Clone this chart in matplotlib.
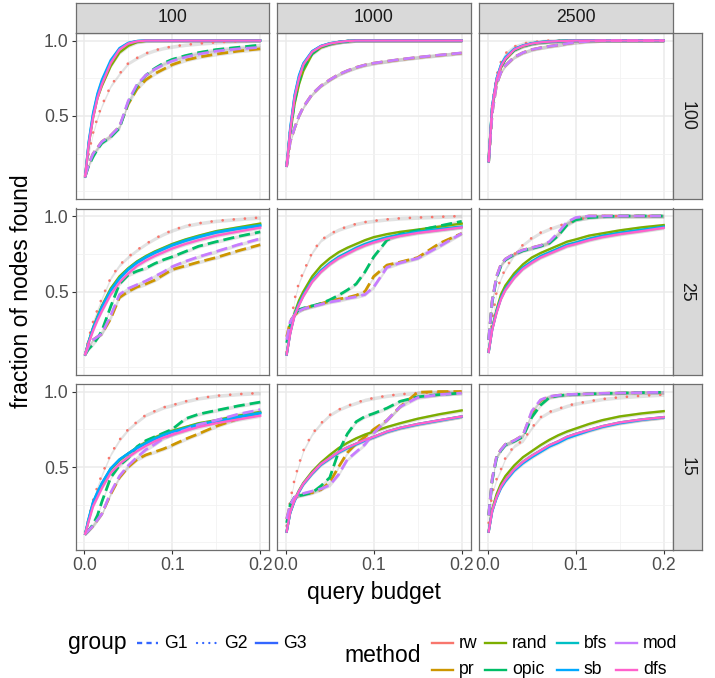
import matplotlib
matplotlib.use("Agg")
import matplotlib.pyplot as plt
import numpy as np

plt.rcParams['font.family'] = ['Liberation Sans', 'DejaVu Sans']

# ----------------------
# DATA
# ----------------------
budget = [0.001, 0.005, 0.01, 0.015, 0.02, 0.03, 0.04, 0.05, 0.06, 0.07,
          0.08, 0.09, 0.1, 0.115, 0.13, 0.15, 0.175, 0.2]

methods = ["rw", "pr", "rand", "opic", "bfs", "sb", "mod", "dfs"]
method_group = {"rw": "G2", "pr": "G1", "rand": "G3", "opic": "G1",
                "bfs": "G3", "sb": "G3", "mod": "G1", "dfs": "G3"}
col_labels = ["100", "1000", "2500"]
row_labels = ["100", "25", "15"]

# row "100"
r100_c100 = dict(
    rw=[0.10, 0.25, 0.39, 0.49, 0.57, 0.70, 0.78, 0.85, 0.885, 0.915, 0.935, 0.95, 0.96, 0.972, 0.98, 0.988, 0.995, 1.0],
    pr=[0.10, 0.18, 0.25, 0.29, 0.33, 0.37, 0.43, 0.58, 0.68, 0.74, 0.78, 0.81, 0.84, 0.87, 0.89, 0.91, 0.93, 0.945],
    rand=[0.10, 0.31, 0.49, 0.62, 0.70, 0.83, 0.92, 0.965, 0.99, 0.998, 1.0, 1.0, 1.0, 1.0, 1.0, 1.0, 1.0, 1.0],
    opic=[0.10, 0.17, 0.23, 0.28, 0.32, 0.36, 0.42, 0.59, 0.70, 0.77, 0.815, 0.85, 0.875, 0.90, 0.92, 0.94, 0.955, 0.97],
    bfs=[0.10, 0.32, 0.51, 0.64, 0.73, 0.86, 0.945, 0.982, 0.996, 1.0, 1.0, 1.0, 1.0, 1.0, 1.0, 1.0, 1.0, 1.0],
    sb=[0.10, 0.33, 0.52, 0.65, 0.74, 0.87, 0.95, 0.985, 0.997, 1.0, 1.0, 1.0, 1.0, 1.0, 1.0, 1.0, 1.0, 1.0],
    mod=[0.10, 0.18, 0.25, 0.29, 0.33, 0.37, 0.43, 0.60, 0.71, 0.77, 0.81, 0.84, 0.865, 0.89, 0.91, 0.93, 0.945, 0.955],
    dfs=[0.10, 0.31, 0.49, 0.62, 0.71, 0.85, 0.94, 0.98, 0.995, 1.0, 1.0, 1.0, 1.0, 1.0, 1.0, 1.0, 1.0, 1.0],
)
r100_c1000 = dict(
    rw=[0.17, 0.40, 0.61, 0.74, 0.83, 0.92, 0.96, 0.978, 0.99, 0.996, 1.0, 1.0, 1.0, 1.0, 1.0, 1.0, 1.0, 1.0],
    pr=[0.17, 0.33, 0.42, 0.50, 0.56, 0.645, 0.70, 0.74, 0.775, 0.80, 0.822, 0.838, 0.85, 0.862, 0.874, 0.888, 0.903, 0.917],
    rand=[0.17, 0.38, 0.58, 0.71, 0.80, 0.91, 0.955, 0.975, 0.988, 0.996, 1.0, 1.0, 1.0, 1.0, 1.0, 1.0, 1.0, 1.0],
    opic=[0.17, 0.39, 0.60, 0.73, 0.82, 0.915, 0.958, 0.977, 0.989, 0.996, 1.0, 1.0, 1.0, 1.0, 1.0, 1.0, 1.0, 1.0],
    bfs=[0.17, 0.41, 0.63, 0.76, 0.845, 0.928, 0.963, 0.981, 0.99, 0.997, 1.0, 1.0, 1.0, 1.0, 1.0, 1.0, 1.0, 1.0],
    sb=[0.17, 0.42, 0.64, 0.77, 0.85, 0.93, 0.965, 0.982, 0.991, 0.997, 1.0, 1.0, 1.0, 1.0, 1.0, 1.0, 1.0, 1.0],
    mod=[0.17, 0.33, 0.42, 0.50, 0.56, 0.645, 0.70, 0.74, 0.775, 0.80, 0.822, 0.838, 0.85, 0.863, 0.875, 0.889, 0.904, 0.918],
    dfs=[0.17, 0.40, 0.62, 0.75, 0.84, 0.925, 0.962, 0.98, 0.99, 0.997, 1.0, 1.0, 1.0, 1.0, 1.0, 1.0, 1.0, 1.0],
)
r100_c2500 = dict(
    rw=[0.20, 0.58, 0.77, 0.86, 0.915, 0.96, 0.98, 0.99, 0.995, 1.0, 1.0, 1.0, 1.0, 1.0, 1.0, 1.0, 1.0, 1.0],
    pr=[0.20, 0.52, 0.71, 0.79, 0.835, 0.89, 0.92, 0.94, 0.952, 0.962, 0.97, 0.98, 0.988, 0.995, 1.0, 1.0, 1.0, 1.0],
    rand=[0.20, 0.55, 0.73, 0.82, 0.875, 0.935, 0.962, 0.978, 0.987, 0.992, 0.996, 0.998, 1.0, 1.0, 1.0, 1.0, 1.0, 1.0],
    opic=[0.20, 0.55, 0.735, 0.825, 0.878, 0.937, 0.963, 0.979, 0.988, 0.992, 0.996, 0.998, 1.0, 1.0, 1.0, 1.0, 1.0, 1.0],
    bfs=[0.20, 0.565, 0.745, 0.835, 0.885, 0.942, 0.966, 0.981, 0.989, 0.993, 0.996, 0.998, 1.0, 1.0, 1.0, 1.0, 1.0, 1.0],
    sb=[0.20, 0.57, 0.75, 0.84, 0.89, 0.945, 0.968, 0.982, 0.99, 0.994, 0.997, 0.998, 1.0, 1.0, 1.0, 1.0, 1.0, 1.0],
    mod=[0.20, 0.52, 0.71, 0.79, 0.835, 0.89, 0.92, 0.94, 0.952, 0.962, 0.97, 0.98, 0.988, 0.995, 1.0, 1.0, 1.0, 1.0],
    dfs=[0.20, 0.56, 0.74, 0.83, 0.88, 0.94, 0.965, 0.98, 0.988, 0.993, 0.996, 0.998, 1.0, 1.0, 1.0, 1.0, 1.0, 1.0],
)
# row "25"
r25_c100 = dict(
    rw=[0.083, 0.19, 0.30, 0.38, 0.455, 0.59, 0.675, 0.73, 0.775, 0.815, 0.85, 0.88, 0.905, 0.935, 0.952, 0.968, 0.98, 0.99],
    pr=[0.083, 0.14, 0.18, 0.20, 0.22, 0.32, 0.46, 0.50, 0.53, 0.55, 0.575, 0.61, 0.645, 0.67, 0.695, 0.725, 0.77, 0.81],
    rand=[0.083, 0.17, 0.26, 0.335, 0.405, 0.52, 0.60, 0.655, 0.70, 0.735, 0.765, 0.79, 0.815, 0.845, 0.87, 0.90, 0.925, 0.95],
    opic=[0.083, 0.12, 0.15, 0.19, 0.24, 0.40, 0.55, 0.61, 0.635, 0.655, 0.685, 0.71, 0.73, 0.765, 0.80, 0.83, 0.865, 0.895],
    bfs=[0.083, 0.17, 0.26, 0.33, 0.40, 0.51, 0.59, 0.65, 0.695, 0.73, 0.76, 0.785, 0.81, 0.84, 0.865, 0.895, 0.92, 0.94],
    sb=[0.083, 0.165, 0.255, 0.325, 0.395, 0.505, 0.585, 0.645, 0.69, 0.725, 0.755, 0.78, 0.805, 0.835, 0.86, 0.89, 0.915, 0.935],
    mod=[0.083, 0.14, 0.18, 0.20, 0.22, 0.34, 0.48, 0.52, 0.545, 0.57, 0.60, 0.63, 0.665, 0.70, 0.73, 0.765, 0.81, 0.85],
    dfs=[0.083, 0.16, 0.24, 0.31, 0.37, 0.48, 0.56, 0.62, 0.67, 0.705, 0.735, 0.76, 0.785, 0.815, 0.84, 0.87, 0.897, 0.923],
)
r25_c1000 = dict(
    rw=[0.10, 0.26, 0.45, 0.56, 0.63, 0.76, 0.84, 0.88, 0.91, 0.93, 0.948, 0.96, 0.968, 0.978, 0.985, 0.99, 0.995, 1.0],
    pr=[0.20, 0.30, 0.345, 0.37, 0.385, 0.405, 0.42, 0.435, 0.45, 0.46, 0.475, 0.50, 0.60, 0.675, 0.695, 0.725, 0.82, 0.885],
    rand=[0.083, 0.23, 0.36, 0.44, 0.50, 0.60, 0.67, 0.72, 0.76, 0.79, 0.815, 0.84, 0.86, 0.88, 0.895, 0.91, 0.93, 0.95],
    opic=[0.16, 0.28, 0.35, 0.38, 0.39, 0.405, 0.42, 0.445, 0.475, 0.51, 0.55, 0.63, 0.73, 0.84, 0.88, 0.905, 0.935, 0.965],
    bfs=[0.083, 0.23, 0.35, 0.42, 0.48, 0.575, 0.64, 0.69, 0.73, 0.76, 0.79, 0.815, 0.835, 0.86, 0.878, 0.897, 0.915, 0.93],
    sb=[0.083, 0.225, 0.345, 0.415, 0.475, 0.57, 0.635, 0.685, 0.725, 0.755, 0.785, 0.81, 0.83, 0.855, 0.873, 0.892, 0.91, 0.927],
    mod=[0.18, 0.30, 0.345, 0.37, 0.385, 0.40, 0.415, 0.43, 0.44, 0.455, 0.465, 0.48, 0.53, 0.66, 0.69, 0.72, 0.80, 0.885],
    dfs=[0.083, 0.22, 0.34, 0.41, 0.47, 0.565, 0.63, 0.68, 0.72, 0.75, 0.78, 0.805, 0.825, 0.85, 0.868, 0.888, 0.906, 0.925],
)
r25_c2500 = dict(
    rw=[0.12, 0.31, 0.50, 0.59, 0.65, 0.745, 0.81, 0.855, 0.89, 0.915, 0.935, 0.95, 0.975, 0.99, 1.0, 1.0, 1.0, 1.0],
    pr=[0.18, 0.44, 0.60, 0.68, 0.715, 0.75, 0.775, 0.79, 0.805, 0.825, 0.88, 0.95, 0.985, 1.0, 1.0, 1.0, 1.0, 1.0],
    rand=[0.10, 0.26, 0.38, 0.48, 0.54, 0.62, 0.68, 0.725, 0.755, 0.78, 0.805, 0.83, 0.845, 0.87, 0.885, 0.905, 0.925, 0.94],
    opic=[0.18, 0.43, 0.59, 0.67, 0.71, 0.745, 0.77, 0.785, 0.80, 0.82, 0.87, 0.94, 0.975, 0.99, 0.995, 1.0, 1.0, 1.0],
    bfs=[0.10, 0.25, 0.37, 0.46, 0.52, 0.60, 0.66, 0.70, 0.735, 0.76, 0.785, 0.81, 0.825, 0.85, 0.87, 0.89, 0.91, 0.93],
    sb=[0.10, 0.25, 0.365, 0.455, 0.515, 0.595, 0.655, 0.695, 0.73, 0.755, 0.78, 0.805, 0.82, 0.845, 0.865, 0.885, 0.905, 0.927],
    mod=[0.18, 0.44, 0.60, 0.68, 0.715, 0.75, 0.775, 0.79, 0.805, 0.83, 0.89, 0.96, 0.99, 1.0, 1.0, 1.0, 1.0, 1.0],
    dfs=[0.10, 0.245, 0.36, 0.45, 0.51, 0.59, 0.65, 0.69, 0.725, 0.75, 0.775, 0.80, 0.815, 0.84, 0.86, 0.88, 0.90, 0.922],
)
# row "15"
r15_c100 = dict(
    rw=[0.068, 0.16, 0.28, 0.37, 0.45, 0.585, 0.68, 0.75, 0.80, 0.845, 0.87, 0.895, 0.91, 0.935, 0.955, 0.972, 0.983, 0.99],
    pr=[0.057, 0.08, 0.11, 0.15, 0.19, 0.32, 0.43, 0.50, 0.55, 0.58, 0.60, 0.62, 0.645, 0.685, 0.72, 0.77, 0.82, 0.86],
    rand=[0.057, 0.15, 0.26, 0.325, 0.385, 0.485, 0.545, 0.59, 0.63, 0.665, 0.695, 0.72, 0.74, 0.765, 0.79, 0.81, 0.84, 0.865],
    opic=[0.057, 0.08, 0.12, 0.18, 0.27, 0.43, 0.51, 0.56, 0.635, 0.675, 0.70, 0.725, 0.75, 0.82, 0.85, 0.875, 0.905, 0.93],
    bfs=[0.057, 0.155, 0.265, 0.33, 0.39, 0.49, 0.55, 0.59, 0.63, 0.66, 0.69, 0.715, 0.735, 0.76, 0.785, 0.805, 0.835, 0.86],
    sb=[0.057, 0.16, 0.27, 0.335, 0.395, 0.49, 0.55, 0.59, 0.625, 0.655, 0.685, 0.71, 0.73, 0.755, 0.78, 0.80, 0.83, 0.855],
    mod=[0.057, 0.08, 0.11, 0.15, 0.19, 0.33, 0.44, 0.51, 0.565, 0.615, 0.65, 0.69, 0.715, 0.745, 0.78, 0.81, 0.85, 0.88],
    dfs=[0.057, 0.14, 0.24, 0.30, 0.36, 0.46, 0.52, 0.565, 0.605, 0.64, 0.67, 0.695, 0.715, 0.74, 0.765, 0.79, 0.815, 0.84],
)
r15_c1000 = dict(
    rw=[0.11, 0.28, 0.42, 0.52, 0.61, 0.72, 0.79, 0.845, 0.88, 0.905, 0.925, 0.945, 0.957, 0.972, 0.982, 0.99, 0.995, 1.0],
    pr=[0.155, 0.25, 0.30, 0.31, 0.32, 0.33, 0.35, 0.40, 0.50, 0.595, 0.655, 0.70, 0.75, 0.81, 0.90, 0.995, 1.0, 1.0],
    rand=[0.072, 0.20, 0.285, 0.345, 0.395, 0.47, 0.53, 0.58, 0.625, 0.66, 0.69, 0.715, 0.735, 0.765, 0.79, 0.82, 0.85, 0.875],
    opic=[0.13, 0.25, 0.30, 0.31, 0.315, 0.33, 0.375, 0.43, 0.60, 0.72, 0.80, 0.835, 0.855, 0.89, 0.935, 0.965, 0.98, 0.99],
    bfs=[0.072, 0.20, 0.28, 0.34, 0.39, 0.46, 0.52, 0.56, 0.60, 0.63, 0.655, 0.68, 0.70, 0.735, 0.76, 0.785, 0.81, 0.835],
    sb=[0.072, 0.195, 0.275, 0.335, 0.385, 0.455, 0.515, 0.555, 0.595, 0.625, 0.65, 0.675, 0.697, 0.732, 0.757, 0.782, 0.808, 0.833],
    mod=[0.155, 0.25, 0.30, 0.315, 0.325, 0.34, 0.355, 0.38, 0.45, 0.55, 0.60, 0.65, 0.725, 0.81, 0.90, 0.96, 0.98, 0.99],
    dfs=[0.072, 0.20, 0.28, 0.34, 0.39, 0.46, 0.52, 0.56, 0.60, 0.63, 0.655, 0.68, 0.70, 0.735, 0.76, 0.785, 0.81, 0.835],
)
r15_c2500 = dict(
    rw=[0.13, 0.33, 0.42, 0.485, 0.56, 0.64, 0.675, 0.76, 0.83, 0.865, 0.885, 0.905, 0.92, 0.935, 0.95, 0.962, 0.972, 0.98],
    pr=[0.18, 0.42, 0.57, 0.615, 0.65, 0.675, 0.71, 0.86, 0.94, 0.965, 0.975, 0.98, 0.982, 0.985, 0.988, 0.99, 0.993, 0.995],
    rand=[0.072, 0.22, 0.32, 0.39, 0.44, 0.51, 0.565, 0.605, 0.645, 0.68, 0.71, 0.735, 0.755, 0.785, 0.81, 0.835, 0.855, 0.87],
    opic=[0.18, 0.41, 0.56, 0.61, 0.645, 0.67, 0.70, 0.83, 0.91, 0.96, 0.972, 0.978, 0.981, 0.984, 0.987, 0.99, 0.993, 0.995],
    bfs=[0.072, 0.21, 0.30, 0.37, 0.415, 0.485, 0.535, 0.575, 0.61, 0.645, 0.67, 0.70, 0.72, 0.745, 0.77, 0.795, 0.815, 0.83],
    sb=[0.072, 0.205, 0.295, 0.36, 0.405, 0.475, 0.525, 0.565, 0.60, 0.635, 0.66, 0.69, 0.71, 0.74, 0.765, 0.79, 0.812, 0.828],
    mod=[0.18, 0.42, 0.57, 0.615, 0.65, 0.675, 0.71, 0.87, 0.945, 0.968, 0.975, 0.98, 0.982, 0.985, 0.988, 0.99, 0.993, 0.995],
    dfs=[0.072, 0.21, 0.30, 0.37, 0.415, 0.485, 0.535, 0.575, 0.61, 0.645, 0.67, 0.70, 0.72, 0.745, 0.77, 0.795, 0.815, 0.83],
)

panels = [[r100_c100, r100_c1000, r100_c2500],
          [r25_c100, r25_c1000, r25_c2500],
          [r15_c100, r15_c1000, r15_c2500]]

# ----------------------
# STYLE
# ----------------------
colors = {"rw": "#F8766D", "pr": "#CD9600", "rand": "#7CAE00", "opic": "#00BE67",
          "bfs": "#00BFC4", "sb": "#00A9FF", "mod": "#C77CFF", "dfs": "#FF61CC"}
group_ls = {"G1": (0, (4, 1.8)), "G2": (0, (0.01, 4)), "G3": "-"}
group_lw = {"G1": 2.0, "G2": 2.0, "G3": 1.7}
RIBBON = 0.012

W, H = 715, 678
col_x = [75.5, 277, 479]
row_y = [33, 208.5, 384]
PW, PH = 193.5, 166
TICK_FS = 12.7
TITLE_FS = 16.5
BORDER = "#6E6E6E"

fig = plt.figure(figsize=(W / 100, H / 100), dpi=100)


def px_axes(x0, y0, w, h):
    return fig.add_axes([x0 / W, 1 - (y0 + h) / H, w / W, h / H])


for r in range(3):
    for c in range(3):
        ax = px_axes(col_x[c], row_y[r], PW, PH)
        data = panels[r][c]
        for m in methods:
            y = np.array(data[m])
            ax.fill_between(budget, y - RIBBON, y + RIBBON, color="#999999",
                            alpha=0.28, lw=0, zorder=2)
        for m in methods:
            g = method_group[m]
            ax.plot(budget, data[m], color=colors[m], lw=group_lw[g],
                    ls=group_ls[g],
                    dash_capstyle="round" if g == "G2" else "butt",
                    zorder=3)
        ax.set_xlim(-0.01, 0.21)
        ax.set_ylim(-0.05, 1.05)
        ax.set_xticks([0.0, 0.1, 0.2])
        ax.set_xticks([0.05, 0.15], minor=True)
        ax.set_yticks([0.5, 1.0])
        ax.set_yticks([0.0, 0.25, 0.75], minor=True)
        ax.grid(True, which="major", color="#EBEBEB", lw=1.1, zorder=0)
        ax.grid(True, which="minor", color="#F2F2F2", lw=0.6, zorder=0)
        ax.set_axisbelow(True)
        for s in ax.spines.values():
            s.set_color(BORDER)
            s.set_linewidth(0.9)
        ax.tick_params(which="minor", length=0)
        ax.tick_params(which="major", length=3, width=0.8, color="#333333",
                       labelsize=TICK_FS, labelcolor="#4D4D4D", pad=2)
        if c == 0:
            ax.set_yticklabels(["0.5", "1.0"])
        else:
            ax.tick_params(axis="y", length=0, labelleft=False)
        if r == 2:
            ax.set_xticklabels(["0.0", "0.1", "0.2"])
        else:
            ax.tick_params(axis="x", length=0, labelbottom=False)

# strips
for c in range(3):
    sa = px_axes(col_x[c], 3, PW, 30)
    sa.set_facecolor("#D9D9D9")
    sa.set_xticks([])
    sa.set_yticks([])
    for s in sa.spines.values():
        s.set_color(BORDER)
        s.set_linewidth(0.9)
    sa.text(0.5, 0.5, col_labels[c], ha="center", va="center",
            fontsize=TICK_FS, color="#1A1A1A", transform=sa.transAxes)
for r in range(3):
    sa = px_axes(col_x[2] + PW, row_y[r], 29, PH)
    sa.set_facecolor("#D9D9D9")
    sa.set_xticks([])
    sa.set_yticks([])
    for s in sa.spines.values():
        s.set_color(BORDER)
        s.set_linewidth(0.9)
    sa.text(0.5, 0.5, row_labels[r], ha="center", va="center", rotation=270,
            fontsize=TICK_FS, color="#1A1A1A", transform=sa.transAxes)

# overlay for titles and legends
ov = fig.add_axes([0, 0, 1, 1], zorder=-1)
ov.set_xlim(0, W)
ov.set_ylim(H, 0)
ov.axis("off")

ov.text(373.5, 593, "query budget", ha="center", va="center", fontsize=TITLE_FS)
ov.text(22, 291, "fraction of nodes found", ha="center", va="center",
        rotation=90, fontsize=TITLE_FS)

# group legend
ov.text(68, 643, "group", ha="left", va="center", fontsize=TITLE_FS)
grp_key_x = [137, 197, 256]
grp_key_ls = {"G1": (0, (2.2, 1.8)), "G2": (0, (0.01, 2.6)), "G3": "-"}
for g, kx in zip(["G1", "G2", "G3"], grp_key_x):
    ov.plot([kx, kx + 21], [643, 643], color="#3366FF", lw=1.7, ls=grp_key_ls[g],
            dash_capstyle="round" if g == "G2" else "butt")
    ov.text(kx + 27, 643, g, ha="left", va="center", fontsize=TICK_FS)

# method legend
ov.text(344, 656, "method", ha="left", va="center", fontsize=TITLE_FS)
meth_key_x = [432, 485, 557, 616]
meth_rows = [643, 670]
for i, m in enumerate(methods):
    kx = meth_key_x[i // 2]
    ky = meth_rows[i % 2]
    ov.plot([kx, kx + 21], [ky, ky], color=colors[m], lw=1.7)
    ov.text(kx + 27, ky, m, ha="left", va="center", fontsize=TICK_FS)

fig.savefig("out.png", dpi=100)
